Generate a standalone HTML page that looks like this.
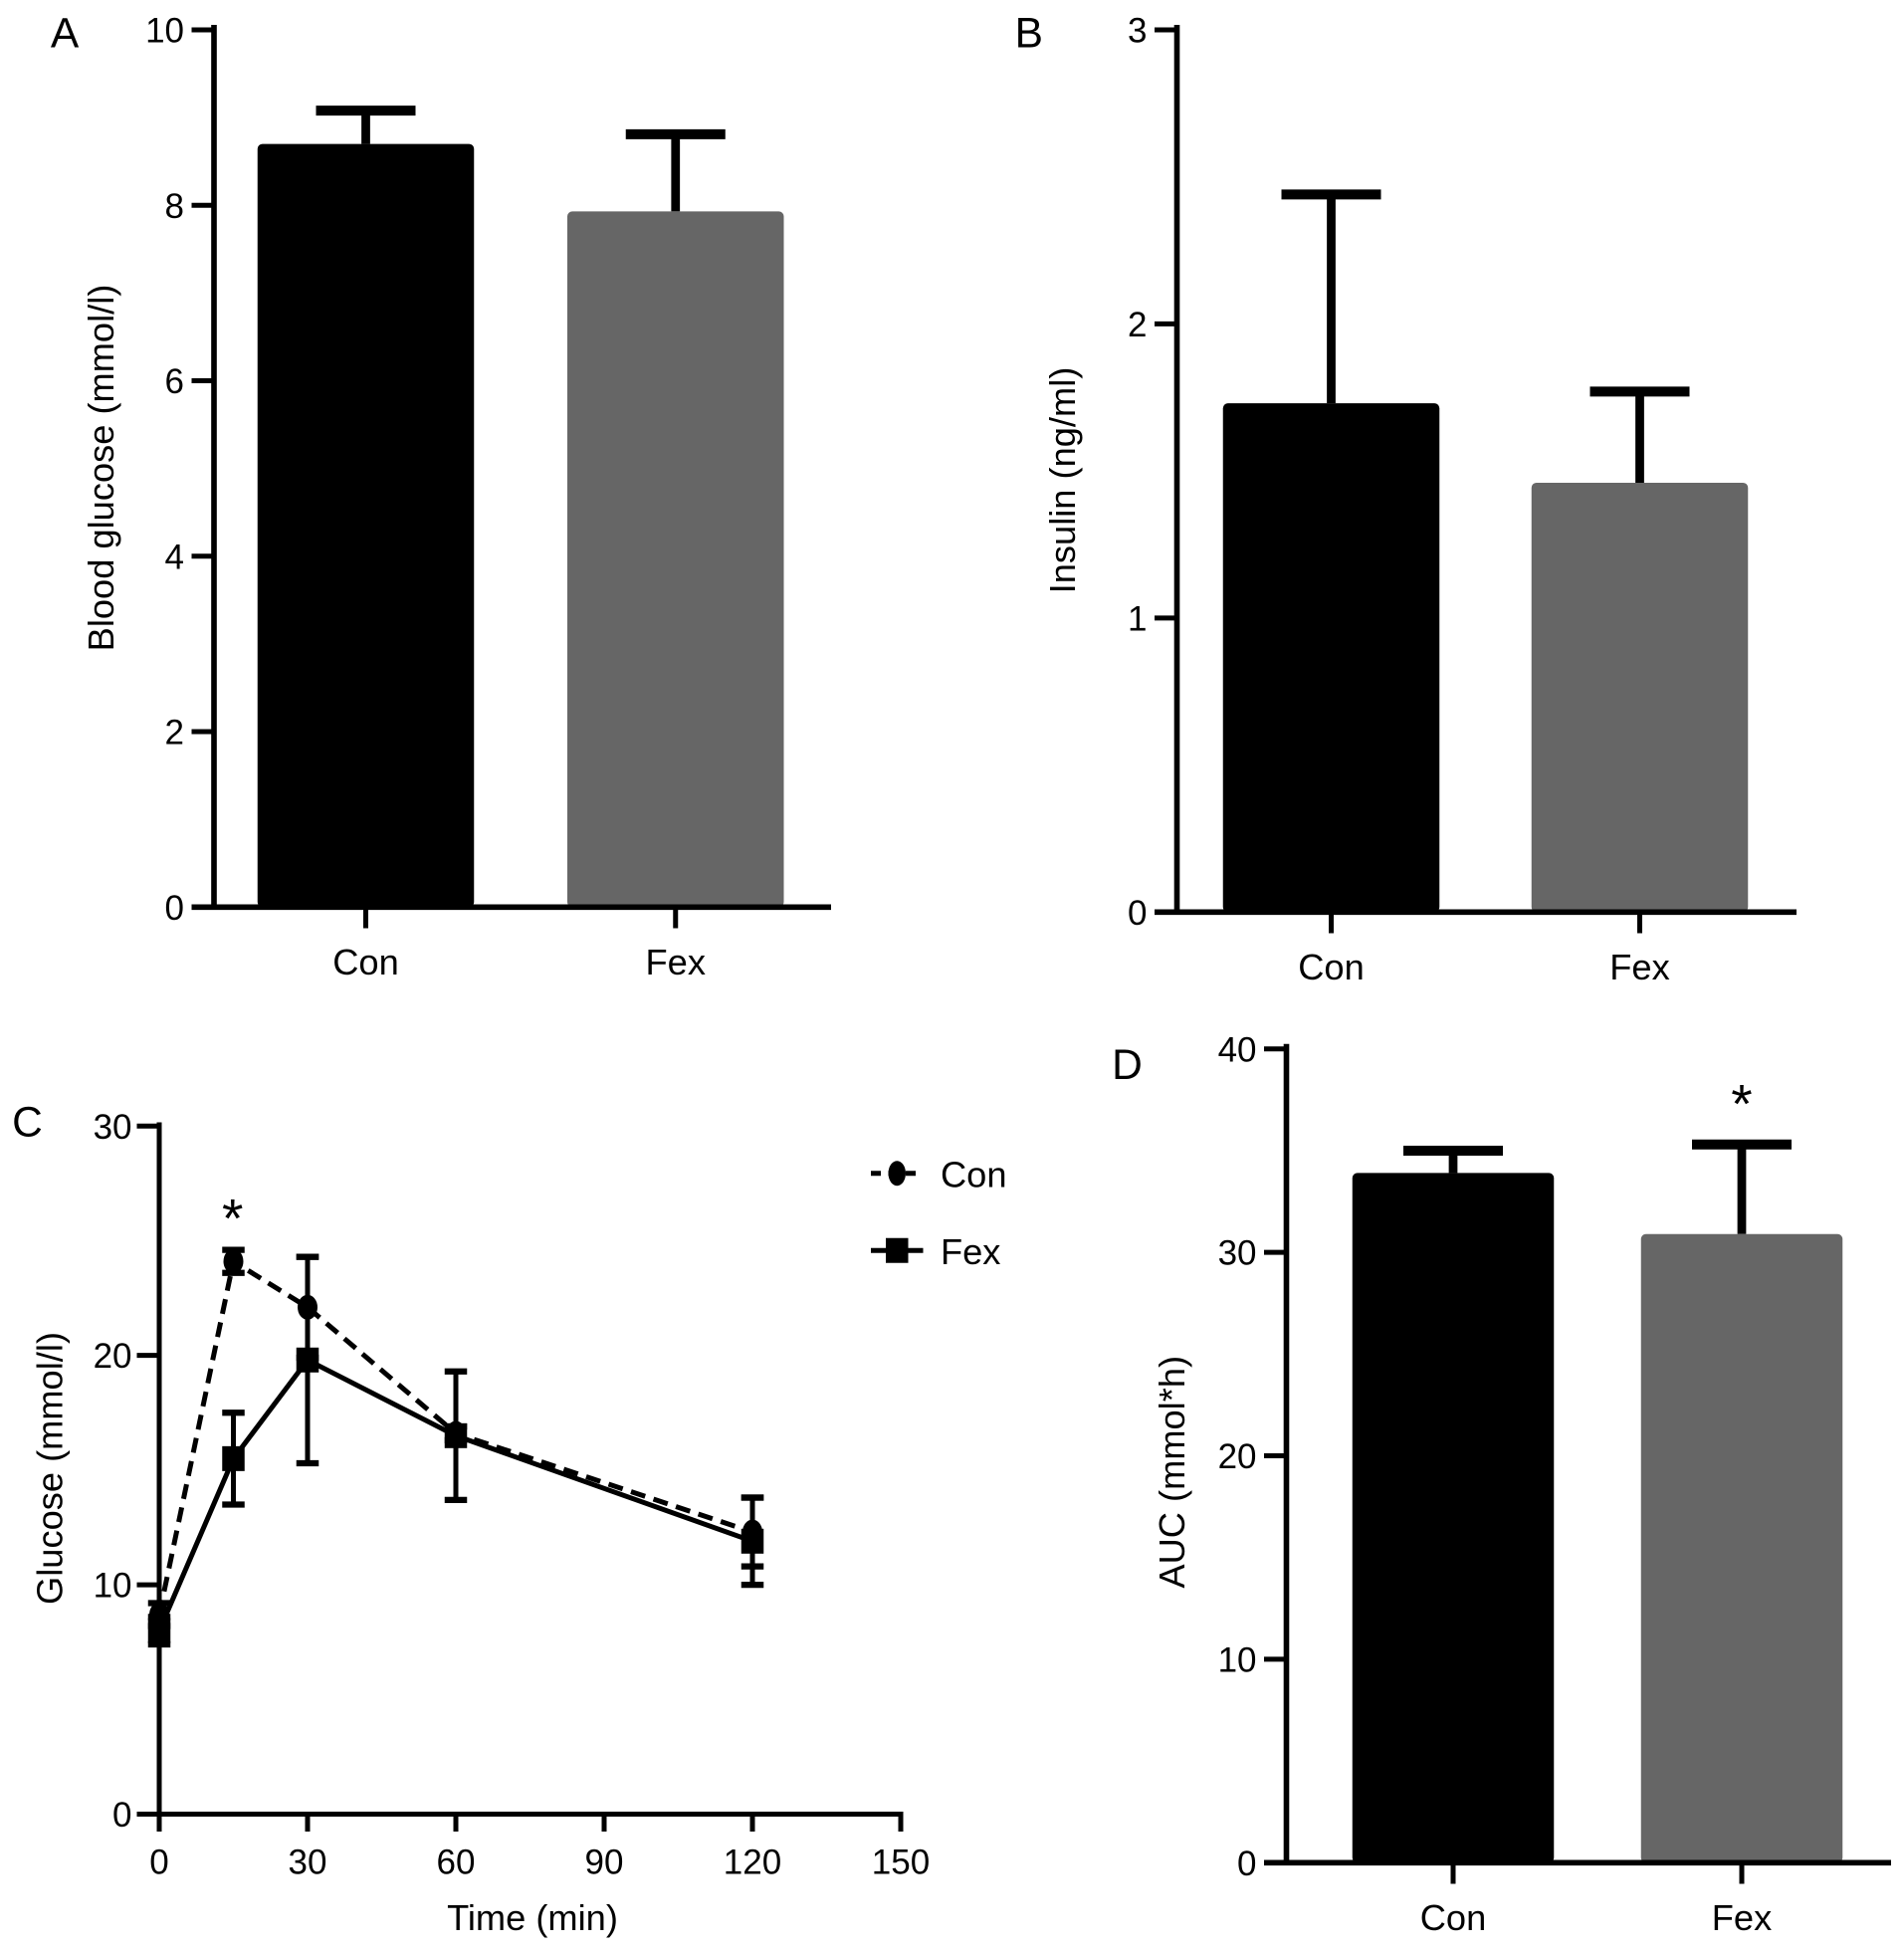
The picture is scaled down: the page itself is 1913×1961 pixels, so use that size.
<!DOCTYPE html>
<html><head><meta charset="utf-8"><style>
html,body{margin:0;padding:0;background:#fff}
svg{display:block}
text{font-family:"Liberation Sans",Arial,sans-serif;fill:#000}
</style></head><body>
<svg id="fig" width="1913" height="1961" viewBox="0 0 1530.4 1568.8" xmlns="http://www.w3.org/2000/svg"></svg>
<script>
// Panel A
const aCats=["Con","Fex"], aVals=[8.7,7.93], aErr=[0.38,0.88], aTicks=[0,2,4,6,8,10];
// Panel B
const bCats=["Con","Fex"], bVals=[1.73,1.46], bErr=[0.71,0.31], bTicks=[0,1,2,3];
// Panel D
const dCats=["Con","Fex"], dVals=[33.9,30.9], dErr=[1.1,4.4], dTicks=[0,10,20,30,40];
// Panel C
const cTimes=[0,15,30,60,120];
const conVals=[8.7,24.1,22.1,16.6,12.3], conErr=[0.5,0.5,2.2,0.3,1.5];
const fexVals=[8.0,15.5,19.8,16.5,11.9], fexErr=[0.6,2.0,4.5,2.8,1.9];
const cYTicks=[0,10,20,30], cXTicks=[0,30,60,90,120,150];

const NS="http://www.w3.org/2000/svg", svg=document.getElementById('fig');
function el(tag,attrs,parent,name){const e=document.createElementNS(NS,tag);for(const k in attrs)e.setAttribute(k,attrs[k]);


(parent||svg).appendChild(e);return e;}
function txt(x,y,s,size,name,anchor,extra){const t=el('text',Object.assign({x:x,y:y,'font-size':size,'text-anchor':anchor||'middle'},extra||{}),svg,name);t.textContent=s;return t;}

function barPanel(p){
  const g=el('g',{},svg,p.id+'-panel');
  const y=v=>p.y0-(v-p.min)/(p.max-p.min)*(p.y0-p.y1);
  el('line',{x1:p.ax,y1:p.y1-4,x2:p.ax,y2:p.y0+2,stroke:'#000','stroke-width':4.5},g,p.id+'-y-axis');
  p.ticks.forEach(t=>{el('line',{x1:p.ax-18,y1:y(t),x2:p.ax,y2:y(t),stroke:'#000','stroke-width':4},g,p.id+'-y-tick');
    txt(p.ax-24,y(t)+10,String(t),28,p.id+'-y-tick-label','end');});
  p.cats.forEach((c,i)=>{const cx=p.cx[i],w=p.bw,top=y(p.vals[i]),et=y(p.vals[i]+p.err[i]);
    el('line',{x1:cx,y1:top,x2:cx,y2:et,stroke:'#000','stroke-width':7},g,p.id+'-errorbar-'+c.toLowerCase());
    el('line',{x1:cx-40,y1:et,x2:cx+40,y2:et,stroke:'#000','stroke-width':8},g,p.id+'-errorcap-'+c.toLowerCase());
    el('rect',{x:cx-w/2,y:top,width:w,height:p.y0-top,rx:4,fill:i?'#666':'#000'},g,p.id+'-bar-'+c.toLowerCase());
    el('line',{x1:cx,y1:p.y0,x2:cx,y2:p.y0+17,stroke:'#000','stroke-width':4},g,p.id+'-x-tick');
    txt(cx,p.y0+54,c,29,p.id+'-x-label-'+c.toLowerCase());});
  el('line',{x1:p.ax-18,y1:p.y0,x2:p.xEnd,y2:p.y0,stroke:'#000','stroke-width':4.5},g,p.id+'-x-axis');
  return y;
}
barPanel({id:'a',ax:172,y0:729,y1:24,min:0,max:10,xEnd:668,ticks:aTicks,cats:aCats,vals:aVals,err:aErr,cx:[294,543],bw:174});
txt(52,38,'A',34,'panel-a-letter');
txt(0,0,'Blood glucose (mmol/l)',29,'a-y-axis-title','middle',{transform:'translate(91,376) rotate(-90)'});
barPanel({id:'b',ax:946,y0:733,y1:24,min:0,max:3,xEnd:1444,ticks:bTicks,cats:bCats,vals:bVals,err:bErr,cx:[1070,1318],bw:174});
txt(827,38,'B',34,'panel-b-letter');
txt(0,0,'Insulin (ng/ml)',29,'b-y-axis-title','middle',{transform:'translate(864,386) rotate(-90)'});
barPanel({id:'d',ax:1034,y0:1497,y1:843,min:0,max:40,xEnd:1520,ticks:dTicks,cats:dCats,vals:dVals,err:dErr,cx:[1168,1400],bw:162});
txt(906,867,'D',34,'panel-d-letter');
txt(1400,902,'*',44,'d-significance-star');
txt(0,0,'AUC (mmol*h)',29,'d-y-axis-title','middle',{transform:'translate(952,1183) rotate(-90)'});

// Panel C
const cx0=128,cx1=724,cy0=1458,cy1=905;
const xs=t=>cx0+t/150*(cx1-cx0), ys=v=>cy0-v/30*(cy0-cy1);
el('line',{x1:cx0,y1:cy1-3,x2:cx0,y2:cy0+2,stroke:'#000','stroke-width':4},svg,'c-y-axis');
el('line',{x1:cx0-18,y1:cy0,x2:cx1+2,y2:cy0,stroke:'#000','stroke-width':4},svg,'c-x-axis');
cYTicks.forEach(t=>{el('line',{x1:cx0-18,y1:ys(t),x2:cx0,y2:ys(t),stroke:'#000','stroke-width':4},svg,'c-y-tick');
  txt(cx0-22,ys(t)+10,String(t),28,'c-y-tick-label','end');});
cXTicks.forEach(t=>{el('line',{x1:xs(t),y1:cy0,x2:xs(t),y2:cy0+14,stroke:'#000','stroke-width':4},svg,'c-x-tick');
  txt(xs(t),cy0+48,String(t),28,'c-x-tick-label');});
txt(428,1551,'Time (min)',29,'c-x-axis-title');
txt(0,0,'Glucose (mmol/l)',29,'c-y-axis-title','middle',{transform:'translate(50,1180) rotate(-90)'});
txt(22,913,'C',34,'panel-c-letter');
txt(187,994,'*',44,'c-significance-star');
function series(vals,err,dash,marker,name){
  el('polyline',{points:cTimes.map((t,i)=>xs(t)+','+ys(vals[i])).join(' '),fill:'none',stroke:'#000','stroke-width':4,'stroke-dasharray':dash||'none'},svg,name+'-line');
  cTimes.forEach((t,i)=>{const x=xs(t),a=ys(vals[i]+err[i]),b=ys(vals[i]-err[i]);
    el('line',{x1:x,y1:a,x2:x,y2:b,stroke:'#000','stroke-width':4},svg,name+'-errorbar');
    el('line',{x1:x-9,y1:a,x2:x+9,y2:a,stroke:'#000','stroke-width':5},svg,name+'-errorcap');
    el('line',{x1:x-9,y1:b,x2:x+9,y2:b,stroke:'#000','stroke-width':5},svg,name+'-errorcap');
    if(marker==='c')el('ellipse',{cx:x,cy:ys(vals[i]),rx:8,ry:10,fill:'#000'},svg,name+'-point');
    else el('rect',{x:x-9,y:ys(vals[i])-10,width:18,height:20,fill:'#000'},svg,name+'-point');});
}
series(conVals,conErr,'12,7','c','con-series');
series(fexVals,fexErr,null,'s','fex-series');
// legend
el('line',{x1:700,y1:943,x2:742,y2:943,stroke:'#000','stroke-width':4,'stroke-dasharray':'8,6'},svg,'legend-con-line');
el('ellipse',{cx:721,cy:943,rx:7,ry:10,fill:'#000'},svg,'legend-con-marker');
txt(756,954,'Con',29,'legend-con-label','start');
el('line',{x1:700,y1:1005,x2:742,y2:1005,stroke:'#000','stroke-width':4},svg,'legend-fex-line');
el('rect',{x:712,y:995,width:18,height:20,fill:'#000'},svg,'legend-fex-marker');
txt(756,1016,'Fex',29,'legend-fex-label','start');
</script>
</body></html>
